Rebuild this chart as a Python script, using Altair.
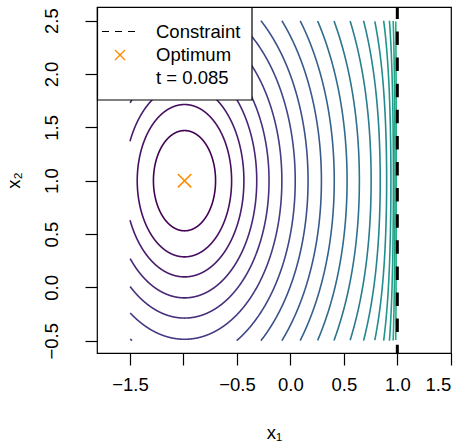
import numpy as np
import pandas as pd
import altair as alt

# Contour levels, given by where each curve crosses x2 = 1 to the right of the optimum
level_cross_x1 = [-0.70, -0.55, -0.435, -0.315, -0.20, -0.08, 0.045, 0.165, 0.29, 0.41,
                  0.53, 0.645, 0.755, 0.84, 0.90, 0.94, 0.963, 0.978, 0.99]
optimum_x1 = [-0.99]
optimum_x2 = [1.0]
constraint_x1 = [1.0]
legend_labels = ["Constraint", "Optimum", "t = 0.085"]
x_ticks = [-1.5, -1.0, -0.5, 0.0, 0.5, 1.0, 1.5]
y_ticks = [-0.5, 0.0, 0.5, 1.0, 1.5, 2.0, 2.5]

# Barrier-augmented objective: quadratic bowl plus a barrier growing towards x1 = 1
A_X1 = 2.53
MU = 1.25
C1, C2 = optimum_x1[0], optimum_x2[0]


def h(x1):
    base = (1 - C1) ** -0.5
    slope = 0.5 * (1 - C1) ** -1.5
    barrier = (1 - x1) ** -0.5 - base - slope * (x1 - C1)
    return A_X1 * (x1 - C1) ** 2 + MU * barrier


def solve_x1(target, right):
    lo = np.where(right, C1, C1 - 5.0)
    hi = np.where(right, 1 - 1e-12, C1)
    for _ in range(80):
        mid = 0.5 * (lo + hi)
        step_up = (h(mid) < target) == right
        lo = np.where(step_up, mid, lo)
        hi = np.where(step_up, hi, mid)
    return 0.5 * (lo + hi)


GRID_X1 = (-1.5, 0.995)
GRID_X2 = (-0.5, 2.5)

rows = []
theta = np.linspace(0, 2 * np.pi, 3000, endpoint=False)
for k, xc in enumerate(level_cross_x1):
    level = h(xc)
    r = np.sqrt(level)
    x2 = C2 + r * np.sin(theta)
    target = level * np.cos(theta) ** 2
    right = np.cos(theta) >= 0
    x1 = solve_x1(target, right)
    inside = ((x1 >= GRID_X1[0]) & (x1 <= GRID_X1[1]) &
              (x2 >= GRID_X2[0]) & (x2 <= GRID_X2[1]))
    if inside.all():
        x1 = np.append(x1, x1[0])
        x2 = np.append(x2, x2[0])
        inside = np.append(inside, True)
    else:
        shift = int(np.argmin(inside))
        x1, x2, inside = np.roll(x1, -shift), np.roll(x2, -shift), np.roll(inside, -shift)
    seg = 0
    prev = False
    for i in range(len(x1)):
        if inside[i]:
            if not prev:
                seg += 1
            rows.append({"x1": x1[i], "x2": x2[i], "k": k, "seg": f"{k}-{seg}", "i": i})
        prev = inside[i]

contours_df = pd.DataFrame(rows)

xs = alt.Scale(domain=[-1.809, 1.502], nice=False, zero=False)
ys = alt.Scale(domain=[-0.615, 2.628], nice=False, zero=False)

x_axis = alt.Axis(values=x_ticks, format=".1f", title="x₁",
                  labelExpr="datum.value == -1 ? '' : datum.label",
                  labelPadding=10, titleX=177, titleY=79, titleAlign="center",
                  titleBaseline="middle", grid=False)
y_axis = alt.Axis(values=y_ticks, format=".1f", title="x₂",
                  labelAngle=270, labelAlign="center", labelBaseline="bottom",
                  labelPadding=24, titleAngle=270, titleX=-84, titleY=173,
                  titleAlign="center", titleBaseline="middle", grid=False)

contours = alt.Chart(contours_df).mark_line(strokeWidth=1.6, clip=True).encode(
    x=alt.X("x1:Q", scale=xs, axis=x_axis),
    y=alt.Y("x2:Q", scale=ys, axis=y_axis),
    detail="seg:N",
    order="i:Q",
    color=alt.Color("k:Q", scale=alt.Scale(scheme="viridis", domain=[0, 29]), legend=None),
)

constraint = alt.Chart(pd.DataFrame({"x1": constraint_x1})).mark_rule(
    color="black", strokeWidth=3, strokeDash=[13.5, 12.6], strokeDashOffset=1.6
).encode(x=alt.X("x1:Q", scale=xs))

X_SHAPE = "M-1,-1L1,1M-1,1L1,-1"
optimum = alt.Chart(pd.DataFrame({"x1": optimum_x1, "x2": optimum_x2})).mark_point(
    shape=X_SHAPE, size=180, filled=False, strokeWidth=1.6, color="#FF8C00", opacity=1
).encode(x=alt.X("x1:Q", scale=xs), y=alt.Y("x2:Q", scale=ys))

one = pd.DataFrame({"v": [0]})
legend_box = alt.Chart(one).mark_rect(fill="white", stroke="black", strokeWidth=1.2).encode(
    x=alt.value(0.5), x2=alt.value(155), y=alt.value(0.5), y2=alt.value(93)
)
legend_dash = alt.Chart(one).mark_rule(color="black", strokeWidth=1.2, strokeDash=[7, 6]).encode(
    x=alt.value(5), x2=alt.value(38), y=alt.value(24.5)
)
legend_cross = alt.Chart(one).mark_point(
    shape=X_SHAPE, size=100, filled=False, strokeWidth=1.4, color="#FF8C00", opacity=1
).encode(x=alt.value(23), y=alt.value(48))

legend_texts = []
for label, ypos in zip(legend_labels, [24.5, 48, 71]):
    legend_texts.append(
        alt.Chart(pd.DataFrame({"label": [label]})).mark_text(
            align="left", baseline="middle", fontSize=18.5, font="Liberation Sans", color="black"
        ).encode(x=alt.value(59), y=alt.value(ypos), text="label:N")
    )

chart = alt.layer(
    contours, constraint, optimum, legend_box, legend_dash, legend_cross, *legend_texts
).properties(
    width=354, height=346,
    padding={"left": 97, "top": 7, "right": 14, "bottom": 89},
    autosize=alt.AutoSizeParams(type="none"),
    background="white",
).configure_view(
    stroke="black", strokeWidth=1.2
).configure_axis(
    domain=False, tickColor="black", tickSize=12, tickWidth=1.2,
    labelFont="Liberation Sans", labelFontSize=18.5, labelColor="black",
    titleFont="Liberation Sans", titleFontSize=18.5, titleFontWeight="normal", titleColor="black",
)

chart.save("out.html", embed_options={"renderer": "svg", "actions": False})
